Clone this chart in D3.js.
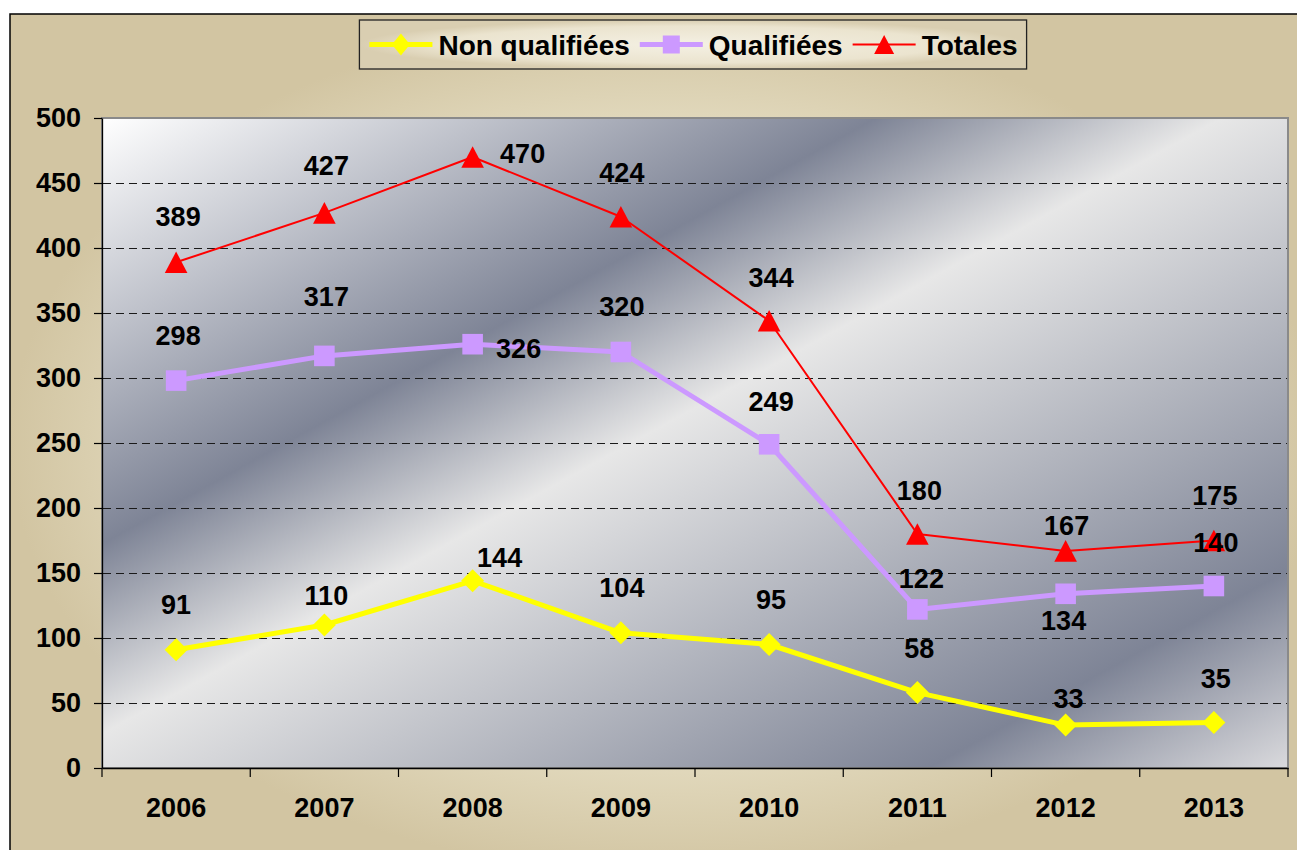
<!DOCTYPE html>
<html>
<head>
<meta charset="utf-8">
<script src="https://cdn.jsdelivr.net/npm/d3@7"></script>
<style>
  html, body { margin: 0; padding: 0; background: #ffffff; overflow: hidden; }
  svg { display: block; }
  text { font-family: "Liberation Sans", Arial, sans-serif; font-weight: bold; fill: #000; }
</style>
</head>
<body>
<svg id="chart" width="1297" height="850"></svg>
<script>
// ---- data ----
const years = ["2006", "2007", "2008", "2009", "2010", "2011", "2012", "2013"];
const nonQualifiees = [91, 110, 144, 104, 95, 58, 33, 35];
const qualifiees = [298, 317, 326, 320, 249, 122, 134, 140];
const totales = [389, 427, 470, 424, 344, 180, 167, 175];
const yTickValues = [0, 50, 100, 150, 200, 250, 300, 350, 400, 450, 500];
const seriesNames = ["Non qualifiées", "Qualifiées", "Totales"];

// ---- layout ----
const plot = { left: 102, top: 118, right: 1288, bottom: 768 };
// label centre offsets (px) from each marker
const labelShift = [
  [[0, -45], [2, -30], [27, -24], [1, -46], [2, -45], [2, -44], [3, -27], [2, -44]],
  [[2, -45], [2, -60], [46, 4], [1, -46], [2, -43], [4, -31], [-2, 26], [2, -44]],
  [[2, -46], [2, -48], [50, -4], [1, -45], [2, -44], [2, -44], [1, -26], [1, -45]]
];
const styles = [
  { color: "#ffff00", width: 5, marker: "diamond" },
  { color: "#cc99ff", width: 5, marker: "square" },
  { color: "#ff0000", width: 2, marker: "triangle" }
];
const seriesValues = [nonQualifiees, qualifiees, totales];

const svg = d3.select("#chart");
const defs = svg.append("defs");

// beige backdrop: light centre, tan edges
const bg = defs.append("radialGradient").attr("id", "bgGrad")
  .attr("cx", 0.5).attr("cy", 0.5).attr("r", 0.5);
bg.append("stop").attr("offset", 0).attr("stop-color", "#efe9d3");
bg.append("stop").attr("offset", 0.7).attr("stop-color", "#e4dcc1");
bg.append("stop").attr("offset", 1).attr("stop-color", "#d2c5a2");

const lg = defs.append("radialGradient").attr("id", "legGrad")
  .attr("cx", 0.5).attr("cy", 0.5).attr("r", 0.5);
lg.append("stop").attr("offset", 0).attr("stop-color", "#f4f0e3");
lg.append("stop").attr("offset", 0.75).attr("stop-color", "#ebe4cf");
lg.append("stop").attr("offset", 1).attr("stop-color", "#d9ceb1");

// metallic diagonal bands in the plot area
const pg = defs.append("linearGradient").attr("id", "plotGrad")
  .attr("gradientUnits", "userSpaceOnUse")
  .attr("x1", 102).attr("y1", 118).attr("x2", 652).attr("y2", 1118);
[[0, "#ffffff"], [0.327, "#7e8496"], [0.473, "#e7e7e7"], [0.848, "#7e8496"], [1, "#dadadd"]]
  .forEach(([o, c]) => pg.append("stop").attr("offset", o).attr("stop-color", c));

// chart frame
svg.append("rect").attr("x", 10).attr("y", 14).attr("width", 1310).attr("height", 860)
  .attr("fill", "url(#bgGrad)").attr("stroke", "#000").attr("stroke-width", 1.5);

// scales
const x = d3.scaleBand().domain(years).range([plot.left, plot.right]).padding(0);
const y = d3.scaleLinear().domain([0, 500]).range([plot.bottom, plot.top]);
const cx = d => x(d) + x.bandwidth() / 2;

// plot area
svg.append("rect").attr("x", plot.left).attr("y", plot.top)
  .attr("width", plot.right - plot.left).attr("height", plot.bottom - plot.top)
  .attr("fill", "url(#plotGrad)").attr("stroke", "#8a8a8a").attr("stroke-width", 2);

// gridlines
svg.append("g").selectAll("line")
  .data(yTickValues.filter(v => v > 0 && v < 500))
  .join("line")
  .attr("x1", plot.left + 1).attr("x2", plot.right - 1)
  .attr("y1", d => y(d) + 0.5).attr("y2", d => y(d) + 0.5)
  .attr("stroke", "#1a1a1a").attr("stroke-width", 1)
  .attr("stroke-dasharray", "8,5");

// y axis
const yAxis = svg.append("g").attr("transform", `translate(${plot.left},0)`)
  .call(d3.axisLeft(y).tickValues(yTickValues).tickSize(8).tickSizeOuter(0).tickPadding(13));
yAxis.select(".domain").attr("stroke", "#000").attr("stroke-width", 1.3);
yAxis.selectAll(".tick line").attr("stroke", "#000").attr("stroke-width", 1.2);
yAxis.selectAll("text").attr("font-size", 27).attr("font-family", null).attr("fill", "#000");

// x axis: labels centred in bands, ticks on band edges
const xAxis = svg.append("g").attr("transform", `translate(0,${plot.bottom})`)
  .call(d3.axisBottom(x).tickSize(0).tickSizeOuter(0).tickPadding(30));
xAxis.select(".domain").attr("stroke", "#000").attr("stroke-width", 1.3);
xAxis.selectAll("text").attr("font-size", 27).attr("font-family", null).attr("fill", "#000");
xAxis.selectAll("line.edge")
  .data(years.map(d => x(d)).concat([plot.right]))
  .join("line").attr("class", "edge")
  .attr("x1", d => d).attr("x2", d => d)
  .attr("y1", 0).attr("y2", 9)
  .attr("stroke", "#000").attr("stroke-width", 1.2);

// marker shapes
function markerPath(kind, s) {
  if (kind === "diamond") return `M0,${-s.h}L${s.w},0L0,${s.h}L${-s.w},0Z`;
  if (kind === "square") return `M${-s.w},${-s.h}H${s.w}V${s.h}H${-s.w}Z`;
  return `M0,${-s.h}L${s.w},${s.h}L${-s.w},${s.h}Z`;
}
const chartMarker = {
  diamond: { w: 11.5, h: 11.5 },
  square: { w: 10.3, h: 10.3 },
  triangle: { w: 11.3, h: 10.8 }
};

const line = d3.line().x(d => cx(d.year)).y(d => y(d.value));

seriesValues.forEach((vals, i) => {
  const pts = years.map((yr, j) => ({ year: yr, value: vals[j] }));
  const g = svg.append("g");
  g.append("path").datum(pts).attr("d", line)
    .attr("fill", "none").attr("stroke", styles[i].color)
    .attr("stroke-width", styles[i].width).attr("stroke-linejoin", "round");
  g.selectAll("path.mk").data(pts).join("path").attr("class", "mk")
    .attr("transform", d => `translate(${cx(d.year)},${y(d.value)})`)
    .attr("d", markerPath(styles[i].marker, chartMarker[styles[i].marker]))
    .attr("fill", styles[i].color);
});

// value labels on top
seriesValues.forEach((vals, i) => {
  svg.append("g").selectAll("text").data(vals).join("text")
    .attr("x", (v, j) => cx(years[j]) + labelShift[i][j][0])
    .attr("y", (v, j) => y(v) + labelShift[i][j][1])
    .attr("dy", "0.36em")
    .attr("text-anchor", "middle")
    .attr("font-size", 27)
    .text(v => v);
});

// legend
const legend = svg.append("g");
const legBox = legend.append("rect");
const legY = 44.5;
const lineLen = 63, gapAfterLine = 6, gapAfterText = 10, padL = 10, padR = 9;
const legMarker = {
  diamond: { w: 9, h: 11 },
  square: { w: 8.5, h: 9 },
  triangle: { w: 10, h: 9.5 }
};
let cursor = 0;
const items = [];
seriesNames.forEach((name, i) => {
  const it = legend.append("g");
  it.append("line").attr("x1", 0).attr("x2", lineLen).attr("y1", legY).attr("y2", legY)
    .attr("stroke", styles[i].color).attr("stroke-width", styles[i].width);
  it.append("path").attr("transform", `translate(${lineLen / 2},${legY})`)
    .attr("d", markerPath(styles[i].marker, legMarker[styles[i].marker]))
    .attr("fill", styles[i].color);
  const t = it.append("text").attr("x", lineLen + gapAfterLine).attr("y", legY).attr("dy", "0.36em")
    .attr("font-size", 28).text(name);
  const w = lineLen + gapAfterLine + t.node().getComputedTextLength();
  items.push({ g: it, w });
});
const totalW = padL + items.reduce((a, b) => a + b.w, 0) + gapAfterText * (items.length - 1) + padR;
const legLeft = 693 - totalW / 2;
cursor = legLeft + padL;
items.forEach(it => {
  it.g.attr("transform", `translate(${cursor},0)`);
  cursor += it.w + gapAfterText;
});
legBox.attr("x", legLeft).attr("y", 20).attr("width", totalW).attr("height", 49)
  .attr("fill", "url(#legGrad)").attr("stroke", "#222").attr("stroke-width", 1.3);
</script>
</body>
</html>
